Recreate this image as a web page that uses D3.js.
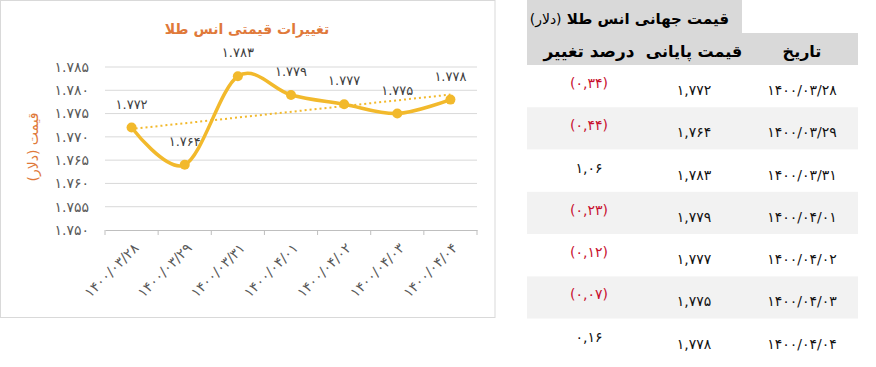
<!DOCTYPE html>
<html>
<head>
<meta charset="utf-8">
<script src="https://cdn.jsdelivr.net/npm/d3@7"></script>
<style>
  body { margin: 0; background: #fff; }
  svg { display: block; font-family: "DejaVu Sans", sans-serif; }
</style>
</head>
<body>
<script>
// data
var dates = ['1400/03/28', '1400/03/29', '1400/03/31', '1400/04/01', '1400/04/02', '1400/04/03', '1400/04/04'];
var prices = [1772, 1764, 1783, 1779, 1777, 1775, 1778];
var changes = [-0.34, -0.44, 1.06, -0.23, -0.12, -0.07, 0.16];
var yTicks = [1.750, 1.755, 1.760, 1.765, 1.770, 1.775, 1.780, 1.785];

var chartTitle = 'تغییرات قیمتی انس طلا',
    yTitle = 'قیمت (دلار)',
    tableTitle = 'قیمت جهانی انس طلا',
    tableUnit = '(دلار)',
    colHeads = ['تاریخ', 'قیمت پایانی', 'درصد تغییر'];

var fa = function(s) { return String(s).replace(/\d/g, function(d) { return '۰۱۲۳۴۵۶۷۸۹'[d]; }); };

var W = 876, H = 367,
    gold = '#f2b92c',
    orange = '#e0793a',
    textGray = '#595959';

var svg = d3.select('body').append('svg')
    .attr('width', W)
    .attr('height', H);

// ---- chart ----
var chart = svg.append('g');

chart.append('rect')
    .attr('x', 0.5).attr('y', 0.5)
    .attr('width', 494.5).attr('height', 317)
    .attr('fill', '#fff')
    .attr('stroke', '#d9d9d9');

var xScale = d3.scaleBand()
    .domain(dates)
    .range([105, 477]);

var yScale = d3.scaleLinear()
    .domain([1.750, 1.785])
    .range([230, 67]);

var vals = prices.map(function(p) { return p / 1000; });

// gridlines
chart.append('g').selectAll('line')
    .data(yTicks.slice(1))
    .enter().append('line')
    .attr('x1', 105).attr('x2', 477)
    .attr('y1', function(d) { return yScale(d); })
    .attr('y2', function(d) { return yScale(d); })
    .attr('stroke', '#d9d9d9')
    .attr('stroke-width', 1);

// y labels
chart.append('g').selectAll('text')
    .data(yTicks)
    .enter().append('text')
    .attr('x', 89)
    .attr('y', function(d) { return yScale(d); })
    .attr('dy', '0.35em')
    .attr('text-anchor', 'end')
    .attr('fill', textGray)
    .style('font-size', '14px')
    .text(function(d) { return fa(d3.format('.3f')(d)); });

// x axis
var xAxis = d3.axisBottom(xScale).tickSize(0).tickFormat('');
var xx = chart.append('g')
    .attr('transform', 'translate(0,230)')
    .call(xAxis);
xx.select('.domain').attr('stroke', '#bfbfbf');

var bounds = dates.map(function(d) { return xScale(d); }).concat([xScale.range()[1]]);
chart.append('g').selectAll('line')
    .data(bounds)
    .enter().append('line')
    .attr('x1', function(d) { return d; })
    .attr('x2', function(d) { return d; })
    .attr('y1', 230).attr('y2', 235)
    .attr('stroke', '#bfbfbf');

chart.append('g').selectAll('text')
    .data(dates)
    .enter().append('text')
    .attr('transform', function(d) {
        return 'translate(' + (xScale(d) + xScale.bandwidth() / 2 + 8) + ',249) rotate(-45)';
    })
    .attr('text-anchor', 'end')
    .attr('fill', textGray)
    .style('font-size', '14px')
    .text(function(d) { return fa(d); });

// titles
chart.append('text')
    .attr('x', 247).attr('y', 34)
    .attr('text-anchor', 'middle')
    .attr('fill', orange)
    .style('font-size', '14px')
    .style('font-weight', 'bold')
    .attr('direction', 'rtl')
    .text(chartTitle);

chart.append('text')
    .attr('transform', 'translate(38,147) rotate(-90)')
    .attr('text-anchor', 'middle')
    .attr('fill', orange)
    .style('font-size', '14px')
    .attr('direction', 'rtl')
    .text(yTitle);

// trendline (linear regression)
var n = vals.length,
    mx = d3.mean(vals, function(d, i) { return i; }),
    my = d3.mean(vals),
    slope = d3.sum(vals, function(d, i) { return (i - mx) * (d - my); }) /
            d3.sum(vals, function(d, i) { return (i - mx) * (i - mx); }),
    icpt = my - slope * mx;
var cx = function(i) { return xScale(dates[i]) + xScale.bandwidth() / 2; };

chart.append('line')
    .attr('x1', cx(0) + 4).attr('x2', cx(n - 1))
    .attr('y1', yScale(icpt)).attr('y2', yScale(icpt + slope * (n - 1)))
    .attr('stroke', gold)
    .attr('stroke-width', 2)
    .attr('stroke-dasharray', '2,3');

// smoothed line
var line = d3.line()
    .x(function(d, i) { return cx(i); })
    .y(function(d) { return yScale(d); })
    .curve(d3.curveCardinal.tension(0));

chart.append('path')
    .datum(vals)
    .attr('d', line)
    .attr('fill', 'none')
    .attr('stroke', gold)
    .attr('stroke-width', 3.5)
    .attr('stroke-linecap', 'round');

chart.append('g').selectAll('circle')
    .data(vals)
    .enter().append('circle')
    .attr('cx', function(d, i) { return cx(i); })
    .attr('cy', function(d) { return yScale(d); })
    .attr('r', 5)
    .attr('fill', gold);

chart.append('g').selectAll('text')
    .data(vals)
    .enter().append('text')
    .attr('x', function(d, i) { return cx(i); })
    .attr('y', function(d) { return yScale(d) - 19; })
    .attr('text-anchor', 'middle')
    .attr('fill', '#404040')
    .style('font-size', '13px')
    .text(function(d) { return fa(d3.format('.3f')(d)); });

// ---- table ----
var table = svg.append('g');

var rowScale = d3.scaleBand()
    .domain(dates)
    .range([65, 361]);

var colX = [802, 694, 589];

table.append('rect')
    .attr('x', 527).attr('y', 0)
    .attr('width', 215).attr('height', 34)
    .attr('fill', '#d9d9d9');
table.append('rect')
    .attr('x', 527).attr('y', 33)
    .attr('width', 331).attr('height', 32)
    .attr('fill', '#d9d9d9');

var t1 = table.append('text')
    .attr('x', 729).attr('y', 24)
    .attr('text-anchor', 'start')
    .attr('direction', 'rtl')
    .attr('fill', '#000');
t1.append('tspan')
    .style('font-size', '15px')
    .style('font-weight', 'bold')
    .text(tableTitle + ' ');
t1.append('tspan')
    .style('font-size', '14px')
    .text(tableUnit);

table.append('g').selectAll('text')
    .data(colHeads)
    .enter().append('text')
    .attr('x', function(d, i) { return colX[i]; })
    .attr('y', 57)
    .attr('text-anchor', 'middle')
    .attr('direction', 'rtl')
    .style('font-size', function(d, i) { return i === 2 ? '17px' : '16px'; })
    .style('font-weight', 'bold')
    .text(function(d) { return d; });

table.append('g').selectAll('rect')
    .data(dates)
    .enter().append('rect')
    .attr('x', 527)
    .attr('y', function(d) { return rowScale(d); })
    .attr('width', 331)
    .attr('height', rowScale.bandwidth())
    .attr('fill', function(d, i) { return i % 2 ? '#f2f2f2' : '#fff'; });

var rows = table.append('g').selectAll('g')
    .data(dates)
    .enter().append('g')
    .attr('transform', function(d) { return 'translate(0,' + rowScale(d) + ')'; });

rows.append('text')
    .attr('x', colX[0]).attr('y', 30)
    .attr('text-anchor', 'middle')
    .attr('fill', '#111')
    .style('font-size', '14px')
    .text(function(d) { return fa(d); });

rows.append('text')
    .attr('x', colX[1]).attr('y', 30)
    .attr('text-anchor', 'middle')
    .attr('fill', '#111')
    .style('font-size', '14px')
    .text(function(d, i) { return fa(d3.format(',')(prices[i])); });

rows.append('text')
    .attr('x', colX[2]).attr('y', 23)
    .attr('text-anchor', 'middle')
    .attr('fill', function(d, i) { return changes[i] < 0 ? '#c8102e' : '#111'; })
    .style('font-size', '14px')
    .text(function(d, i) {
        var c = changes[i],
            s = fa(d3.format('.2f')(Math.abs(c)).replace('.', ','));
        return c < 0 ? '(' + s + ')' : s;
    });
</script>
</body>
</html>
